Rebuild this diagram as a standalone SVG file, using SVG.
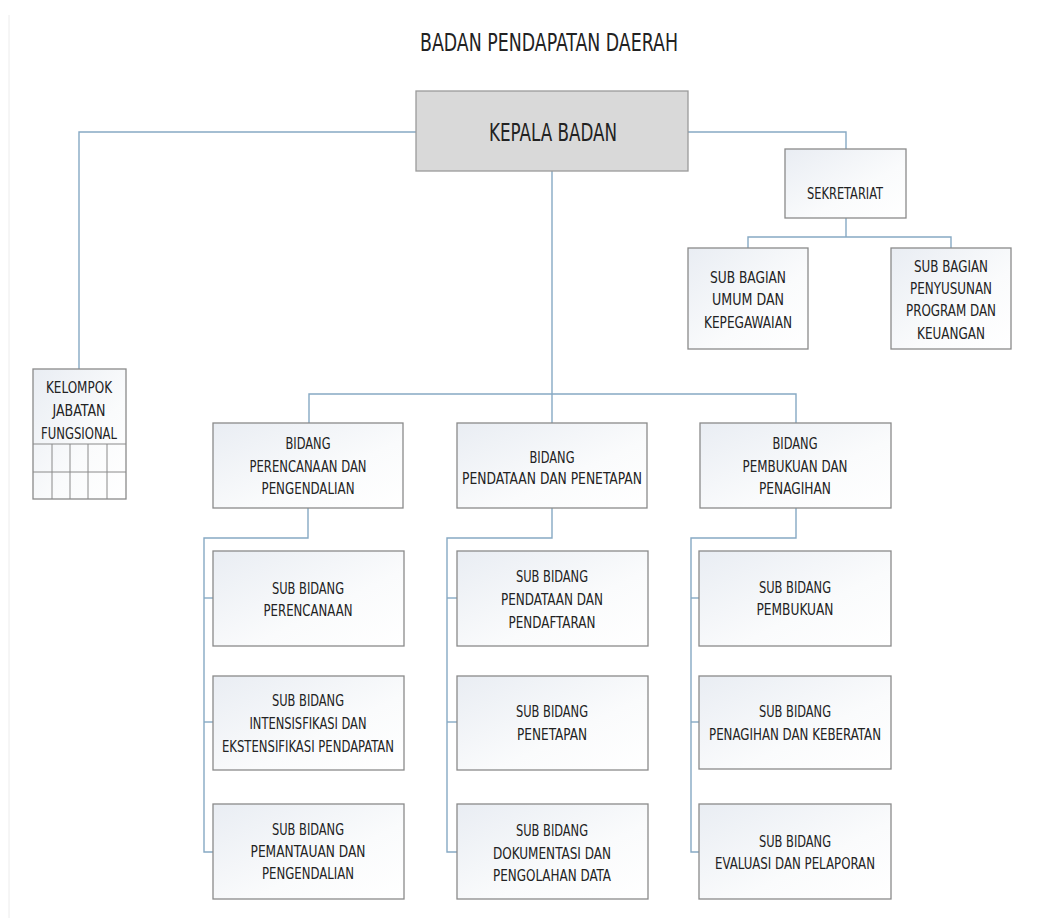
<svg xmlns="http://www.w3.org/2000/svg" width="1050" height="918" viewBox="0 0 1050 918">
<defs>
<linearGradient id="boxfill" x1="0" y1="0" x2="1" y2="1">
<stop offset="0" stop-color="#e9edf3"/>
<stop offset="0.6" stop-color="#fafbfc"/>
<stop offset="1" stop-color="#ffffff"/>
</linearGradient>
<style>
.box{fill:url(#boxfill);stroke:#8a8a8a;stroke-width:1.3}
.head{fill:#d9d9d9;stroke:#9a9a9a;stroke-width:1.3}
.conn{fill:none;stroke:#86a9c4;stroke-width:1.4}
.grid{fill:none;stroke:#8a8a8a;stroke-width:1}
text{font-family:"DejaVu Sans Condensed","Liberation Sans",sans-serif;font-size:16px;fill:#222;text-anchor:middle}
.big{font-size:24px}
</style>
</defs>
<rect x="0" y="0" width="1050" height="918" fill="#ffffff"/>
<line x1="9" y1="15" x2="9" y2="918" stroke="#ececec" stroke-width="1"/>

<text class="big" x="549" y="51" textLength="258" lengthAdjust="spacingAndGlyphs">BADAN PENDAPATAN DAERAH</text>

<g id="connectors">
<polyline class="conn" points="416,132 79,132 79,369"/>
<polyline class="conn" points="688,132 846,132 846,149"/>
<polyline class="conn" points="846,218 846,237"/>
<polyline class="conn" points="748,248 748,237 951,237 951,248"/>
<polyline class="conn" points="552,171 552,394"/>
<polyline class="conn" points="309,423 309,394 796,394 796,423"/>
<polyline class="conn" points="552,394 552,423"/>
<polyline class="conn" points="308,508 308,538 204,538 204,852 213,852"/>
<line class="conn" x1="204" y1="598" x2="213" y2="598"/>
<line class="conn" x1="204" y1="722" x2="213" y2="722"/>
<polyline class="conn" points="552,508 552,538 447,538 447,852 457,852"/>
<line class="conn" x1="447" y1="598" x2="457" y2="598"/>
<line class="conn" x1="447" y1="722" x2="457" y2="722"/>
<polyline class="conn" points="796,508 796,538 691,538 691,852 699,852"/>
<line class="conn" x1="691" y1="598" x2="699" y2="598"/>
<line class="conn" x1="691" y1="722" x2="699" y2="722"/>
</g>

<g id="kepala">
<rect class="head" x="416" y="91" width="272" height="80"/>
<text class="big" x="553" y="141" textLength="128" lengthAdjust="spacingAndGlyphs">KEPALA BADAN</text>
</g>

<g id="sekretariat">
<rect class="box" x="785" y="149" width="121" height="69"/>
<text x="845" y="199" textLength="76" lengthAdjust="spacingAndGlyphs">SEKRETARIAT</text>
</g>

<g id="sub-umum">
<rect class="box" x="688" y="248" width="120" height="101"/>
<text x="748" y="283" textLength="76" lengthAdjust="spacingAndGlyphs">SUB BAGIAN</text>
<text x="748" y="305" textLength="72" lengthAdjust="spacingAndGlyphs">UMUM DAN</text>
<text x="748" y="328" textLength="88" lengthAdjust="spacingAndGlyphs">KEPEGAWAIAN</text>
</g>

<g id="sub-penyusunan">
<rect class="box" x="891" y="248" width="120" height="101"/>
<text x="951" y="272" textLength="74" lengthAdjust="spacingAndGlyphs">SUB BAGIAN</text>
<text x="951" y="294" textLength="82" lengthAdjust="spacingAndGlyphs">PENYUSUNAN</text>
<text x="951" y="316" textLength="90" lengthAdjust="spacingAndGlyphs">PROGRAM DAN</text>
<text x="951" y="339" textLength="68" lengthAdjust="spacingAndGlyphs">KEUANGAN</text>
</g>

<g id="kelompok">
<rect class="box" x="33" y="369" width="93" height="130"/>
<text x="79" y="393" textLength="66" lengthAdjust="spacingAndGlyphs">KELOMPOK</text>
<text x="79" y="416" textLength="53" lengthAdjust="spacingAndGlyphs">JABATAN</text>
<text x="79" y="439" textLength="76" lengthAdjust="spacingAndGlyphs">FUNGSIONAL</text>
<line class="grid" x1="33" y1="444" x2="126" y2="444"/>
<line class="grid" x1="33" y1="472" x2="126" y2="472"/>
<line class="grid" x1="52" y1="444" x2="52" y2="499"/>
<line class="grid" x1="70" y1="444" x2="70" y2="499"/>
<line class="grid" x1="88" y1="444" x2="88" y2="499"/>
<line class="grid" x1="107" y1="444" x2="107" y2="499"/>
</g>

<g id="bidang-perencanaan">
<rect class="box" x="213" y="423" width="190" height="85"/>
<text x="308" y="449" textLength="45" lengthAdjust="spacingAndGlyphs">BIDANG</text>
<text x="308" y="472" textLength="117" lengthAdjust="spacingAndGlyphs">PERENCANAAN DAN</text>
<text x="308" y="494" textLength="93" lengthAdjust="spacingAndGlyphs">PENGENDALIAN</text>
</g>

<g id="bidang-pendataan">
<rect class="box" x="457" y="423" width="190" height="85"/>
<text x="552" y="463" textLength="45" lengthAdjust="spacingAndGlyphs">BIDANG</text>
<text x="552" y="484" textLength="180" lengthAdjust="spacingAndGlyphs">PENDATAAN DAN PENETAPAN</text>
</g>

<g id="bidang-pembukuan">
<rect class="box" x="700" y="423" width="191" height="85"/>
<text x="795" y="449" textLength="45" lengthAdjust="spacingAndGlyphs">BIDANG</text>
<text x="795" y="472" textLength="105" lengthAdjust="spacingAndGlyphs">PEMBUKUAN DAN</text>
<text x="795" y="494" textLength="72" lengthAdjust="spacingAndGlyphs">PENAGIHAN</text>
</g>

<g id="sb-perencanaan">
<rect class="box" x="213" y="551" width="191" height="95"/>
<text x="308" y="594" textLength="72" lengthAdjust="spacingAndGlyphs">SUB BIDANG</text>
<text x="308" y="616" textLength="89" lengthAdjust="spacingAndGlyphs">PERENCANAAN</text>
</g>

<g id="sb-intensifikasi">
<rect class="box" x="213" y="676" width="191" height="94"/>
<text x="308" y="706" textLength="72" lengthAdjust="spacingAndGlyphs">SUB BIDANG</text>
<text x="308" y="729" textLength="117" lengthAdjust="spacingAndGlyphs">INTENSISFIKASI DAN</text>
<text x="308" y="752" textLength="172" lengthAdjust="spacingAndGlyphs">EKSTENSIFIKASI PENDAPATAN</text>
</g>

<g id="sb-pemantauan">
<rect class="box" x="213" y="804" width="191" height="95"/>
<text x="308" y="835" textLength="72" lengthAdjust="spacingAndGlyphs">SUB BIDANG</text>
<text x="308" y="857" textLength="115" lengthAdjust="spacingAndGlyphs">PEMANTAUAN DAN</text>
<text x="308" y="879" textLength="92" lengthAdjust="spacingAndGlyphs">PENGENDALIAN</text>
</g>

<g id="sb-pendataan">
<rect class="box" x="457" y="551" width="191" height="95"/>
<text x="552" y="582" textLength="72" lengthAdjust="spacingAndGlyphs">SUB BIDANG</text>
<text x="552" y="605" textLength="102" lengthAdjust="spacingAndGlyphs">PENDATAAN DAN</text>
<text x="552" y="628" textLength="87" lengthAdjust="spacingAndGlyphs">PENDAFTARAN</text>
</g>

<g id="sb-penetapan">
<rect class="box" x="457" y="676" width="191" height="94"/>
<text x="552" y="717" textLength="72" lengthAdjust="spacingAndGlyphs">SUB BIDANG</text>
<text x="552" y="740" textLength="70" lengthAdjust="spacingAndGlyphs">PENETAPAN</text>
</g>

<g id="sb-dokumentasi">
<rect class="box" x="457" y="804" width="191" height="95"/>
<text x="552" y="836" textLength="72" lengthAdjust="spacingAndGlyphs">SUB BIDANG</text>
<text x="552" y="859" textLength="118" lengthAdjust="spacingAndGlyphs">DOKUMENTASI DAN</text>
<text x="552" y="881" textLength="118" lengthAdjust="spacingAndGlyphs">PENGOLAHAN DATA</text>
</g>

<g id="sb-pembukuan">
<rect class="box" x="699" y="551" width="192" height="95"/>
<text x="795" y="593" textLength="72" lengthAdjust="spacingAndGlyphs">SUB BIDANG</text>
<text x="795" y="615" textLength="77" lengthAdjust="spacingAndGlyphs">PEMBUKUAN</text>
</g>

<g id="sb-penagihan">
<rect class="box" x="699" y="676" width="192" height="93"/>
<text x="795" y="717" textLength="72" lengthAdjust="spacingAndGlyphs">SUB BIDANG</text>
<text x="795" y="740" textLength="172" lengthAdjust="spacingAndGlyphs">PENAGIHAN DAN KEBERATAN</text>
</g>

<g id="sb-evaluasi">
<rect class="box" x="699" y="804" width="192" height="95"/>
<text x="795" y="847" textLength="72" lengthAdjust="spacingAndGlyphs">SUB BIDANG</text>
<text x="795" y="869" textLength="160" lengthAdjust="spacingAndGlyphs">EVALUASI DAN PELAPORAN</text>
</g>
</svg>
